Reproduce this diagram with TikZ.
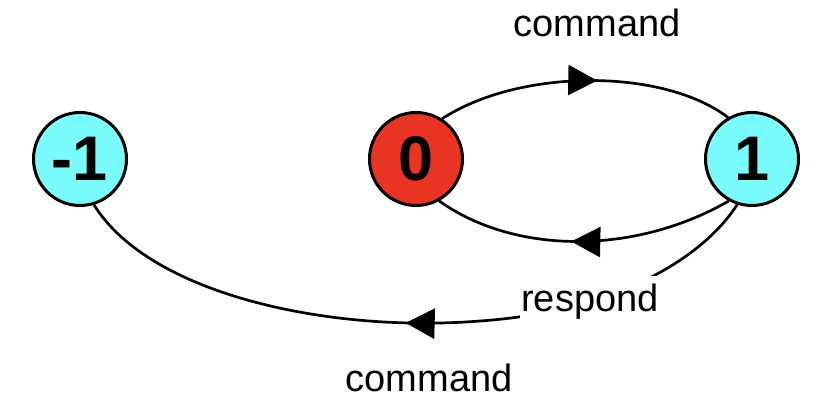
\documentclass[tikz,border=0pt]{standalone}
\usepackage{fontspec}
\setmainfont{Liberation Sans}
\usetikzlibrary{arrows.meta,decorations.markings}
\definecolor{cyanfill}{RGB}{122,252,252}
\definecolor{redfill}{RGB}{233,52,36}

\begin{document}
\begin{tikzpicture}[x=1pt, y=-1pt,
  st/.style={circle, draw, line width=3pt, minimum size=93pt, inner sep=0pt, font=\fontsize{63}{63}\selectfont\bfseries},
  lbl/.style={font=\fontsize{38}{38}\selectfont, inner sep=1pt},
  arr/.style={line width=2.7pt, postaction={decorate, decoration={markings, mark=at position #1 with {\arrow{Triangle[length=29pt,width=30pt]}}}}}
]
\useasboundingbox (0,0) rectangle (836,414);
% states
\node[st, fill=cyanfill] (nm1) at (80,159) {-1};
\node[st, fill=redfill] (n0) at (416,159) {0};
\node[st, fill=cyanfill] (n1) at (752,159) {1};
% transitions
\draw[arr=0.54] (n0.57) .. controls (520,68) and (663,68) .. (n1.120);
\draw[arr=0.54] (n1.-119) .. controls (635,255) and (515,255) .. (n0.-61);
\draw[arr=0.515] (n1.-108) .. controls (700,262) and (610,312) .. (480,321)
  .. controls (330,333) and (150,295) .. (nm1.-73);
% labels
\node[lbl, anchor=base] (cmdtop) at (597,37) {command};
\node[lbl, anchor=base, fill=white, inner ysep=8pt] (resp) at (590,312) {respond};
\node[lbl, anchor=base] (cmdbot) at (429,391) {command};
\end{tikzpicture}
\end{document}
